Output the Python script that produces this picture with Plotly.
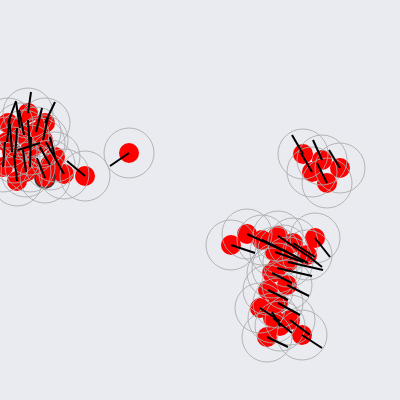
import plotly.graph_objects as go

# boid positions (px) and heading offsets
boid_x = [28, 45, 8, 43, 7, 24, 30, 15, 55, 64, 85, 45, 17, 30, 3, 40,
          20, 36, 12, 26, 50,
          129,
          303, 312, 322, 340, 327,
          231, 247, 262, 278, 293, 315, 307, 275, 288, 277, 283, 272,
          268, 287, 260, 278, 273, 290, 302, 267, 280]
boid_y = [113, 123, 123, 140, 142, 135, 150, 158, 157, 174, 176, 178, 181, 167, 167, 143,
          128, 132, 152, 172, 165,
          153,
          154, 172, 160, 168, 183,
          245, 234, 240, 236, 243, 238, 255, 252, 262, 268, 250, 273,
          290, 285, 308, 303, 318, 320, 335, 337, 326]
head_dx = [3, 10, 8, 5, 3, -5, -2, 2, -5, -18, -18, -8, -3, 1, 2, -22,
           -4, 6, -2, -3, -10,
           -19,
           -11, -11, -9, -11, -10,
           24, 35, 25, 30, 22, 15, 15, 28, 35, 35, 25, 20,
           20, 22, 20, 22, 19, 20, 20, 21, -8]
head_dy = [-21, -21, -22, -22, -25, -25, -30, -30, -20, -32, -15, -20, -26, -30, -25, 7,
           -26, -24, -28, -22, -18,
           13,
           -19, -19, -20, -18, -20,
           8, 16, 12, 20, 14, 19, 12, 10, 8, 8, 13, 10,
           10, 11, 13, 12, 15, 15, 13, 10, -14]
outlined = [11]

seg_x, seg_y = [], []
for x, y, dx, dy in zip(boid_x, boid_y, head_dx, head_dy):
    seg_x.extend([x, x + dx, None])
    seg_y.extend([y, y + dy, None])

fig = go.Figure()
fig.add_trace(go.Scatter(
    x=boid_x, y=boid_y, mode="markers", hoverinfo="none",
    marker=dict(size=20, color="red",
                line=dict(width=[1.5 if i in outlined else 0 for i in range(len(boid_x))],
                          color="#333333")),
))
fig.add_trace(go.Scatter(
    x=boid_x, y=boid_y, mode="markers", hoverinfo="none",
    marker=dict(size=50, color="rgba(0,0,0,0)",
                line=dict(width=1, color="rgba(170,170,170,0.85)")),
))
fig.add_trace(go.Scatter(
    x=seg_x, y=seg_y, mode="lines", hoverinfo="none",
    line=dict(width=2, color="black"),
))

fig.update_layout(
    width=400, height=400,
    showlegend=False,
    margin=dict(l=0, r=0, t=0, b=0),
    paper_bgcolor="#eaebf0",
    plot_bgcolor="#eaebf0",
    xaxis=dict(range=[0, 400], visible=False, fixedrange=True),
    yaxis=dict(range=[400, 0], visible=False, fixedrange=True),
)

fig.write_html("out.html", config={"displayModeBar": False},
               post_script="document.body.style.margin = '0';")
